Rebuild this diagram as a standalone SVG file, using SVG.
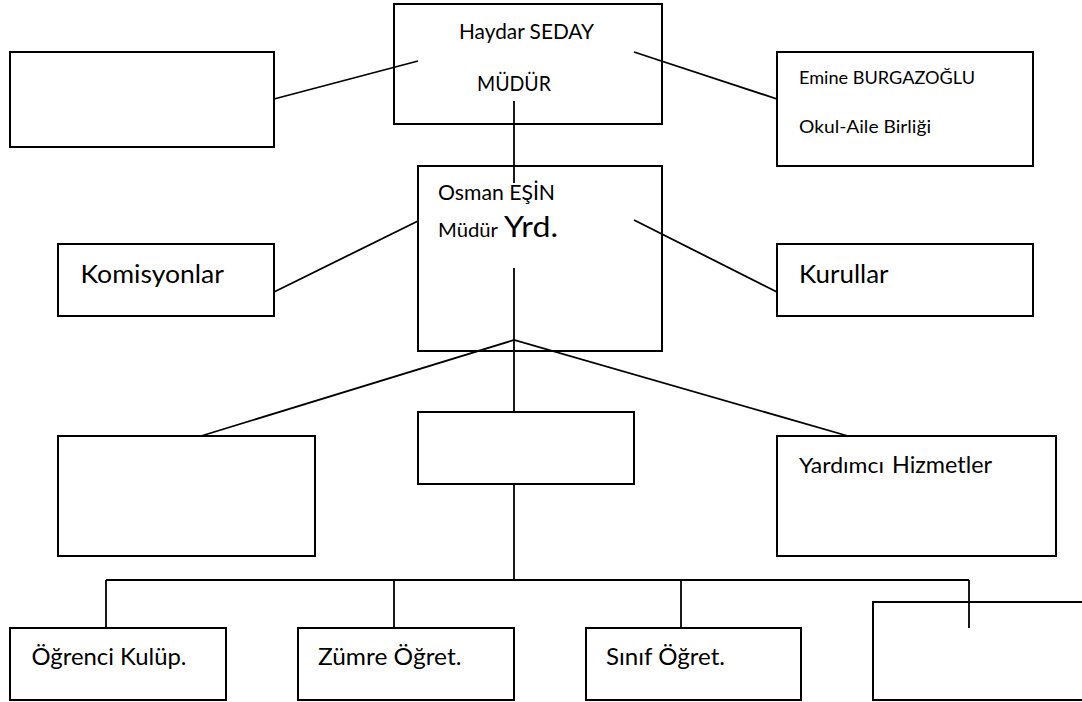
<svg xmlns="http://www.w3.org/2000/svg" width="1082" height="702" viewBox="0 0 1082 702">
<style>
.box{fill:#fff;stroke:#000;stroke-width:2}
.ln{fill:none;stroke:#000;stroke-width:1.8}
text{font-family:Lato,"Open Sans","Liberation Sans",sans-serif;fill:#000}
.s{font-size:21px}
.l{font-size:24px}
</style>
<rect width="1082" height="702" fill="#fff"/>
<g id="node-left-top"><rect class="box" x="10" y="52" width="264" height="95"/></g>
<g id="node-mudur"><rect class="box" x="394" y="4" width="268" height="120"/>
<text class="s" x="459" y="39" textLength="135" lengthAdjust="spacingAndGlyphs">Haydar SEDAY</text>
<text class="s" x="477" y="91" textLength="74" lengthAdjust="spacingAndGlyphs">MÜDÜR</text></g>
<g id="node-emine"><rect class="box" x="777" y="52" width="256" height="114"/>
<text x="799" y="84" font-size="17.5" textLength="176" lengthAdjust="spacingAndGlyphs">Emine BURGAZOĞLU</text>
<text x="799" y="133" font-size="18" textLength="132" lengthAdjust="spacingAndGlyphs">Okul-Aile Birliği</text></g>
<g id="node-osman"><rect class="box" x="418" y="166" width="244" height="185"/>
<text class="s" x="438" y="200" textLength="117" lengthAdjust="spacingAndGlyphs">Osman EŞİN</text>
<text x="438" y="237" font-size="20" textLength="60" lengthAdjust="spacingAndGlyphs">Müdür</text>
<text x="504" y="237" font-size="28" textLength="54" lengthAdjust="spacingAndGlyphs">Yrd.</text></g>
<g id="node-komisyonlar"><rect class="box" x="58" y="244" width="216" height="72"/>
<text x="80.5" y="283" font-size="25.5" textLength="143.5" lengthAdjust="spacingAndGlyphs">Komisyonlar</text></g>
<g id="node-kurullar"><rect class="box" x="777" y="244" width="256" height="72"/>
<text x="799" y="283" font-size="25.5" textLength="89.5" lengthAdjust="spacingAndGlyphs">Kurullar</text></g>
<g id="node-left-mid"><rect class="box" x="58" y="436" width="257" height="120"/></g>
<g id="node-mid"><rect class="box" x="418" y="412" width="216" height="72"/></g>
<g id="node-yardimci"><rect class="box" x="777" y="436" width="279" height="120"/>
<text x="799" y="473" font-size="21.5" textLength="85" lengthAdjust="spacingAndGlyphs">Yardımcı</text>
<text x="892" y="473" font-size="23.5" textLength="100" lengthAdjust="spacingAndGlyphs">Hizmetler</text></g>
<g id="node-ogrenci"><rect class="box" x="10" y="628" width="216" height="72"/>
<text class="l" x="31.5" y="665" textLength="155" lengthAdjust="spacingAndGlyphs">Öğrenci Kulüp.</text></g>
<g id="node-zumre"><rect class="box" x="298" y="628" width="216" height="72"/>
<text class="l" x="318" y="665" textLength="143.5" lengthAdjust="spacingAndGlyphs">Zümre Öğret.</text></g>
<g id="node-sinif"><rect class="box" x="586" y="628" width="215" height="72"/>
<text class="l" x="606" y="665" textLength="119" lengthAdjust="spacingAndGlyphs">Sınıf Öğret.</text></g>
<g id="node-right-bottom"><rect class="box" x="873" y="602" width="220" height="98"/></g>
<g id="connectors">
<line class="ln" x1="274" y1="99" x2="418" y2="61"/>
<line class="ln" x1="634" y1="52" x2="777" y2="99"/>
<line class="ln" x1="514" y1="101" x2="514" y2="183"/>
<line class="ln" x1="274" y1="292" x2="418" y2="221"/>
<line class="ln" x1="634" y1="220" x2="777" y2="292"/>
<line class="ln" x1="514" y1="268" x2="514" y2="412"/>
<polyline class="ln" points="201,436 514,340 848,436"/>
<line class="ln" x1="514" y1="484" x2="514" y2="580"/>
<line class="ln" x1="106" y1="580" x2="969" y2="580"/>
<line class="ln" x1="106" y1="580" x2="106" y2="628"/>
<line class="ln" x1="394" y1="580" x2="394" y2="628"/>
<line class="ln" x1="681" y1="580" x2="681" y2="628"/>
<line class="ln" x1="969" y1="580" x2="969" y2="628"/>
</g>
</svg>
